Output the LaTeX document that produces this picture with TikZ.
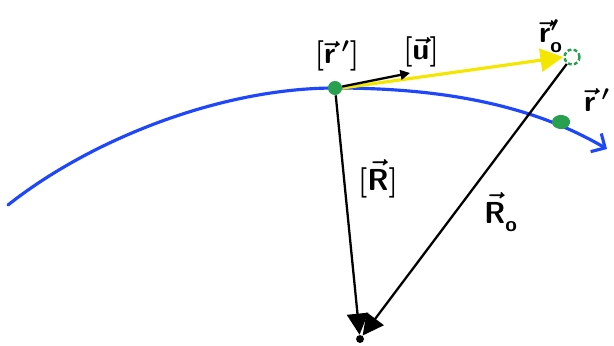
\documentclass[tikz,border=0pt]{standalone}
\usetikzlibrary{arrows.meta}
\definecolor{curveblue}{RGB}{30,70,250}
\definecolor{dotgreen}{RGB}{40,160,80}
\definecolor{vecyellow}{RGB}{245,230,0}
\begin{document}
\begin{tikzpicture}[x=0.02cm,y=-0.02cm,
  lbl/.style={font=\sffamily\bfseries\LARGE\boldmath, inner sep=1pt},
  vec/.style={black, line width=1.3pt}]
\useasboundingbox (0,0) rectangle (614,345);
% curve
\draw[curveblue, line width=1.8pt, line cap=round, -{Straight Barb[length=6pt,width=12pt]}]
  (8,205) .. controls (90,140) and (220,88) .. (335,88)
  .. controls (440,88) and (530,104) .. (607,149);
% nodes
\node[circle, fill=dotgreen, minimum size=8pt, inner sep=0pt] (rp) at (335,88) {};
\node[circle, fill=dotgreen, xscale=1.3, minimum size=8pt, inner sep=0pt, rotate=-10] (rr) at (561,122) {};
\node[circle, draw=dotgreen, dash pattern=on 2.2pt off 1.3pt, line width=1.4pt, minimum size=8.5pt, inner sep=0pt] (r0) at (572,57) {};
\coordinate (ue) at (410,73);
\node[circle, fill=black, minimum size=4.5pt, inner sep=0pt] (O) at (360,339) {};
% vectors
\draw[vecyellow, line width=1.8pt, -{Triangle[length=13pt,width=13pt]}] (rp.east) -- (r0.west);
\draw[vec, -{Triangle[length=5.5pt,width=5.5pt]}] (rp) -- (ue);
\draw[vec, -{Triangle[length=12pt,width=12pt]}] (rp) -- (O);
\draw[vec, -{Triangle[length=12pt,width=12pt]}] (r0) -- (O);
% labels
\node[lbl] (lrp) at (337,56) {$[\vec{\mathsf{r}}\,']$};
\node[lbl] (lu) at (421,52) {$[\vec{\mathsf{u}}]$};
\node[lbl] (lr0) at (551,36) {$\vec{\mathsf{r}}_{\mathsf{o}}'$};
\node[lbl] (lr) at (597,100) {$\vec{\mathsf{r}}\,'$};
\node[lbl] (lR) at (378,179) {$[\vec{\mathsf{R}\mathstrut}]$};
\node[lbl] (lR0) at (501,212) {$\vec{\mathsf{R}\mathstrut}_{\mathsf{o}}$};
\end{tikzpicture}
\end{document}
